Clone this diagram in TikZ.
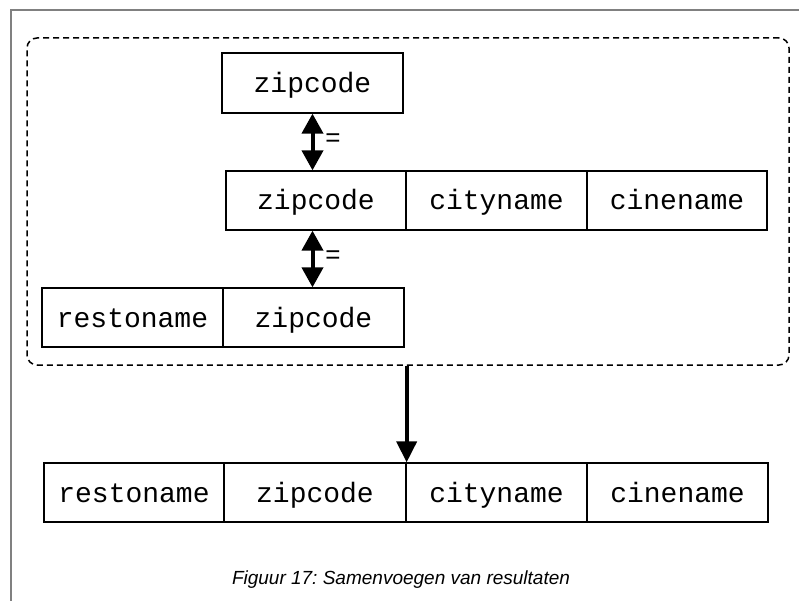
\documentclass[tikz,border=0pt]{standalone}
\usepackage{fontspec}
\setmainfont{Liberation Serif}
\setsansfont{Liberation Sans}
\setmonofont{Liberation Mono}
\usetikzlibrary{arrows.meta}
\frenchspacing
\tikzset{
  cell/.style={draw, line width=1.3pt, inner sep=0pt, minimum height=59pt,
    text height=19pt, text depth=0pt,
    font=\fontsize{28}{30}\selectfont\ttfamily},
  bigarrow/.style={line width=4pt, -{Triangle[width=20pt,length=21pt]}},
  dblarrow/.style={line width=4pt, {Triangle[width=21pt,length=20pt]}-{Triangle[width=21pt,length=20pt]}},
  eqlabel/.style={font=\fontsize{26}{28}\selectfont\sffamily, inner sep=0pt},
  groupbox/.style={draw, dash pattern=on 6pt off 4pt, line width=1.5pt, rounded corners=10pt, inner sep=0pt},
  frame/.style={draw=black!50, line width=1.2pt}
}
\begin{document}
\begin{tikzpicture}[x=1pt,y=-1pt]
\useasboundingbox (0,0) rectangle (799,601);
% page frame
\draw[frame] (11,601) -- (11,10) -- (799,10);
% group box
\node[groupbox, minimum width=762pt, minimum height=327pt] (grp) at (408,201.5) {};
% top zipcode
\node[cell, minimum width=181pt, minimum height=60pt] (z1) at (312.5,83) {zipcode};
% row 2
\node[cell, minimum width=180pt] (z2) at (316,200.5) {zipcode};
\node[cell, minimum width=181pt] (c2) at (496.5,200.5) {cityname};
\node[cell, minimum width=180pt] (n2) at (677,200.5) {cinename};
% row 3
\node[cell, minimum width=181pt] (r3) at (132.5,317.5) {restoname};
\node[cell, minimum width=181pt] (z3) at (313.5,317.5) {zipcode};
% bottom row
\node[cell, minimum width=180pt] (r4) at (134,492.5) {restoname};
\node[cell, minimum width=182pt] (z4) at (315,492.5) {zipcode};
\node[cell, minimum width=181pt] (c4) at (496.5,492.5) {cityname};
\node[cell, minimum width=181pt] (n4) at (677.5,492.5) {cinename};
% connectors
\coordinate (a1s) at (z1.south);
\coordinate (a1e) at (z1.south |- z2.north);
\draw[dblarrow] (a1s) -- (a1e);
\node[eqlabel] (eq1) at (333,140) {=};
\coordinate (a2s) at (z1.south |- z2.south);
\coordinate (a2e) at (z1.south |- z3.north);
\draw[dblarrow] (a2s) -- (a2e);
\node[eqlabel] (eq2) at (333,257) {=};
\coordinate (a3s) at (grp.south -| z4.north east);
\draw[bigarrow] (a3s) -- (z4.north east);
% caption
\node[font=\fontsize{19}{22}\selectfont\sffamily\itshape, inner sep=0pt] (cap) at (401,580) {Figuur 17: Samenvoegen van resultaten};
\end{tikzpicture}
\end{document}
